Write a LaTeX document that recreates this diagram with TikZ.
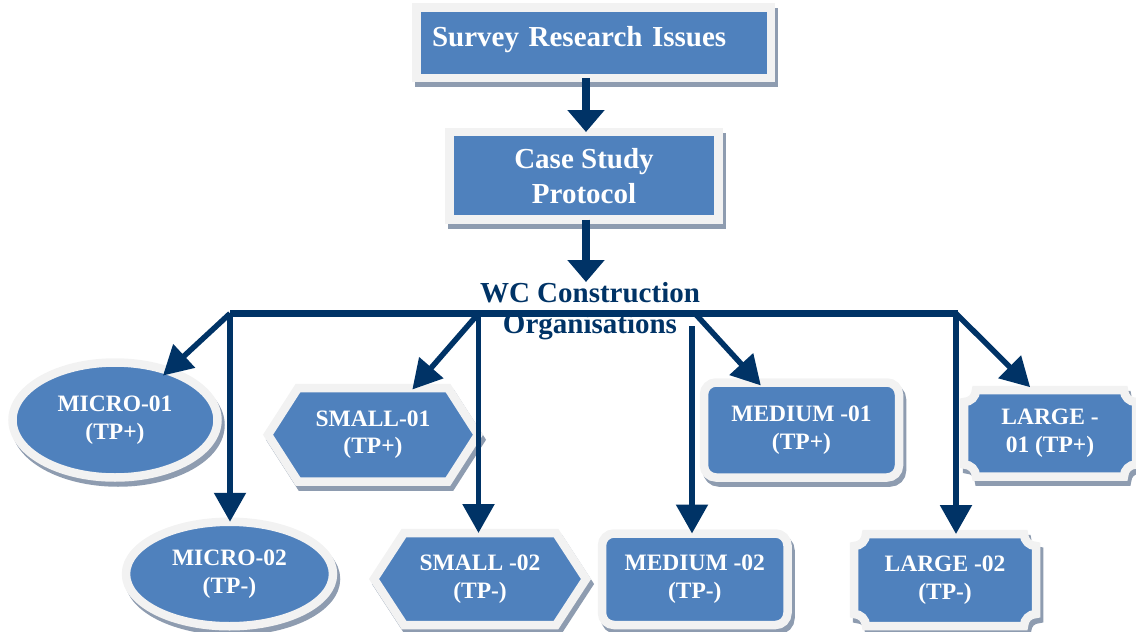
\documentclass[tikz,border=0pt]{standalone}
\usepackage{fontspec}
\setmainfont{Liberation Serif}
\usetikzlibrary{arrows.meta,shapes.geometric,shadows,calc}
\definecolor{boxblue}{HTML}{4F81BD}
\definecolor{rimgray}{HTML}{F2F2F2}
\definecolor{shadowgray}{RGB}{142,156,176}
\definecolor{navy}{RGB}{0,51,102}
\pgfdeclarelayer{background}
\pgfsetlayers{background,main}
\newcommand\hexpath[1]{([xshift=30pt]#1.north west) -- ([xshift=-30pt]#1.north east) -- (#1.east) -- ([xshift=-30pt]#1.south east) -- ([xshift=30pt]#1.south west) -- (#1.west) -- cycle}
\newcommand\plaquepath[1]{([yshift=-12pt]#1.north west) arc[start angle=-90,end angle=0,radius=12pt] -- ([xshift=-12pt]#1.north east) arc[start angle=180,end angle=270,radius=12pt] -- ([yshift=12pt]#1.south east) arc[start angle=90,end angle=180,radius=12pt] -- ([xshift=12pt]#1.south west) arc[start angle=0,end angle=90,radius=12pt] -- cycle}
\tikzset{
  rim/.style={fill=boxblue, draw=rimgray, line width=8.5pt},
  shade3d/.style={fill=shadowgray, draw=shadowgray, line width=8.5pt, transform canvas={shift={(3pt,-5pt)}}},
  dropsh/.style={drop shadow={shadow xshift=3pt, shadow yshift=-5pt, opacity=1, fill=shadowgray, draw=shadowgray, line width=8.5pt}},
  labeltext/.style={text=white, font=\fontsize{23.5}{27.5}\selectfont\bfseries, align=center, inner sep=0pt, outer sep=0pt},
  titletext/.style={text=white, font=\fontsize{29}{35}\selectfont\bfseries, inner sep=0pt, outer sep=0pt},
  ovalnode/.style={ellipse, rim, dropsh, labeltext},
  roundnode/.style={rectangle, rounded corners=12pt, rim, dropsh, labeltext},
  plainnode/.style={rectangle, labeltext},
  bigarrow/.style={draw=navy, line width=8pt, -{Triangle[width=36pt,length=22pt]}},
  arrowline/.style={draw=navy, line width=5.5pt, -{Triangle[width=31pt,length=29pt]}},
  barline/.style={draw=navy, line width=7pt},
}
\begin{document}
\begin{tikzpicture}[x=1pt, y=-1pt]
\useasboundingbox (0,0) rectangle (1136,632);
% top boxes
\node[rectangle, rim, dropsh, titletext, minimum height=70.5pt, text width=323pt, align=left, inner xsep=15.75pt, text height=20pt, text depth=13pt] (b1) at (593.5,42.5) {Survey Research Issues};
\node[rectangle, rim, dropsh, titletext, align=center, minimum width=269pt, minimum height=87.5pt] (b2) at (584,175.75) {Case Study\\Protocol};
\node[titletext, text=navy, align=center, font=\fontsize{29}{31}\selectfont\bfseries, anchor=north] (wc) at (590,282) {WC Construction\\Organisations};
% category nodes
\node[ovalnode, minimum width=205pt, minimum height=115pt] (m1) at (115,420) {MICRO-01\\(TP+)};
\node[ovalnode, minimum width=207pt, minimum height=104.5pt] (m2) at (229.5,574) {MICRO-02\\(TP-)};
\node[plainnode, minimum width=210pt, minimum height=93.5pt] (s1) at (373,434.75) {SMALL-01\\(TP+)};
\node[plainnode, minimum width=212pt, minimum height=92pt] (s2) at (480,579) {SMALL -02\\(TP-)};
\node[roundnode, minimum width=195pt, minimum height=95pt] (d1) at (801.5,430) {MEDIUM -01\\(TP+)};
\node[roundnode, minimum width=185.5pt, minimum height=91.5pt] (d2) at (694.75,579.25) {MEDIUM -02\\(TP-)};
\node[plainnode, minimum width=172pt, minimum height=86.5pt] (l1) at (1050,433.25) {LARGE -\\01 (TP+)};
\node[plainnode, minimum width=182pt, minimum height=92pt] (l2) at (945,580) {LARGE -02\\(TP-)};
\begin{pgfonlayer}{background}
  \foreach \n in {s1,s2} {\path[shade3d] \hexpath{\n}; \path[rim] \hexpath{\n};}
  \foreach \n in {l1,l2} {\path[shade3d] \plaquepath{\n}; \path[rim] \plaquepath{\n};}
\end{pgfonlayer}
% junctions
\coordinate (j1) at (230,313.5);
\coordinate (j2) at (478.5,313.5);
\coordinate (j3) at (695,313.5);
\coordinate (j3v) at (692,326);
\coordinate (j4) at (956,313.5);
\coordinate (barend) at (958,313.5);
% connectors
\draw[bigarrow] ([xshift=2pt]b2.north |- b1.south) -- ([xshift=2pt]b2.north);
\draw[bigarrow] ([xshift=2pt]b2.south) -- ([xshift=2pt]b2.south |- wc.north);
\draw[barline] (j1) -- (barend);
\draw[arrowline, shorten >=-7pt] (j1) -- (m1);
\draw[arrowline] (j1) -- (j1 |- m2.north);
\draw[arrowline, shorten >=-2pt] (j2) -- (s1);
\draw[arrowline] (j2) -- (j2 |- s2.north);
\draw[arrowline, shorten >=-4pt] (j3) -- (d1);
\draw[arrowline] (j3v) -- (j3v |- d2.north);
\draw[arrowline] (j4) -- (j4 |- l2.north);
\draw[arrowline, shorten >=4pt] (j4) -- ([xshift=-17pt]l1.north);
\end{tikzpicture}
\end{document}
